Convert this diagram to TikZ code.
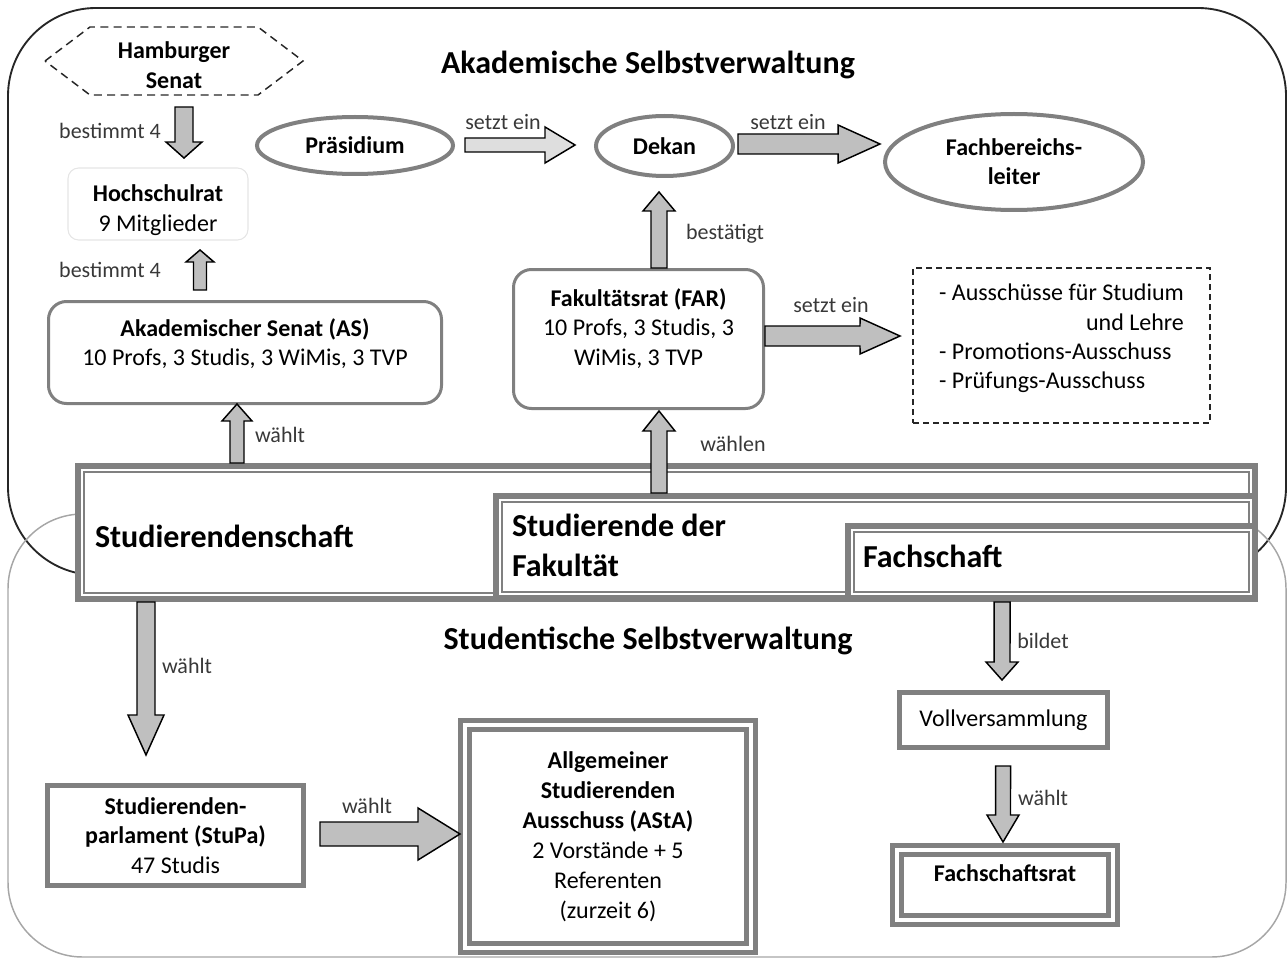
\documentclass[tikz,border=0pt]{standalone}
\usepackage{fontspec}
\setmainfont{Carlito}
\usetikzlibrary{calc,shapes.geometric}

\newcommand{\pu}{0.75pt}
\definecolor{boxgray}{gray}{0.5}
\definecolor{fillgray}{gray}{0.75}
\definecolor{lightfill}{gray}{0.87}
\definecolor{lblgray}{gray}{0.22}

\tikzset{
  body/.style={font=\fontsize{18}{22}\selectfont},
  lbl/.style={font=\fontsize{16.5}{20}\selectfont, text=lblgray, inner sep=0pt},
  title/.style={font=\fontsize{24}{30}\selectfont\bfseries, inner sep=0pt},
  roundbox/.style={body, rectangle, rounded corners=13.5pt, draw=boxgray, line width=2.25pt, align=center},
  oval/.style={ellipse, draw=boxgray, line width=3pt, align=center, font=\fontsize{18}{22}\selectfont\bfseries},
  plainbox/.style={body, rectangle, draw=boxgray, line width=3.5pt, align=center},
  twobox/.style={body, rectangle, draw=boxgray, line width=3.75pt, double=white, double distance=3pt, align=center},
  studbox/.style={rectangle, draw=boxgray, line width=4.5pt, fill=white},
  studtext/.style={title, anchor=west, align=left},
  fat/.style n args={3}{draw=black, line width=1.1pt, fill=fillgray, line join=miter,
    to path={
      ($(\tikztostart)!#1*\pu!90:(\tikztotarget)$)
      -- ($(\tikztotarget)!{veclen(#3,#1)*\pu}!{-atan(#1/#3)}:(\tikztostart)$)
      -- ($(\tikztotarget)!{veclen(#3,#2)*\pu}!{-atan(#2/#3)}:(\tikztostart)$)
      -- (\tikztotarget)
      -- ($(\tikztotarget)!{veclen(#3,#2)*\pu}!{atan(#2/#3)}:(\tikztostart)$)
      -- ($(\tikztotarget)!{veclen(#3,#1)*\pu}!{atan(#1/#3)}:(\tikztostart)$)
      -- ($(\tikztostart)!#1*\pu!-90:(\tikztotarget)$)
      -- cycle}},
}

\begin{document}
\begin{tikzpicture}[x=0.75pt, y=-0.75pt, every node/.append style={outer sep=0pt}]
  \useasboundingbox (0,0) rectangle (1287,959);

  % the two areas
  \draw[black!85, line width=1.4pt, rounded corners=66pt] (8,8) rectangle (1286,575);
  \draw[gray!70, line width=1.1pt, rounded corners=56pt] (8,514) rectangle (1286,957);

  \node[title] (akad) at (648,65) {Akademische Selbstverwaltung};
  \node[title] (stud) at (648,641) {Studentische Selbstverwaltung};

  % upper part
  \node[body, align=center, minimum width=258*\pu, minimum height=68*\pu, inner sep=1pt] (hs) at (174,61) {\mbox{}\\[-3pt]\textbf{Hamburger}\\\textbf{Senat}};
  \draw[black!85, line width=1.1pt, dash pattern=on 6pt off 4pt] (hs.west) -- ([xshift=45*\pu]hs.north west) -- ([xshift=-45*\pu]hs.north east) -- (hs.east) -- ([xshift=-45*\pu]hs.south east) -- ([xshift=45*\pu]hs.south west) -- cycle;

  \node[body, rectangle, rounded corners=8pt, draw=gray!20, line width=0.8pt, align=center, inner sep=1pt, minimum width=180*\pu, minimum height=72*\pu] (hr) at (158,204) {\mbox{}\\[0pt]\textbf{Hochschulrat}\\9 Mitglieder};
  \node[roundbox, minimum width=393*\pu, minimum height=102*\pu] (as) at (245,352.5) {\textbf{Akademischer Senat (AS)}\\10 Profs, 3 Studis, 3 WiMis, 3 TVP\\[-6pt]\mbox{}};

  \node[oval, minimum width=196*\pu, minimum height=57*\pu] (praes) at (355,145.5) {Präsidium};
  \node[oval, minimum width=137*\pu, minimum height=60*\pu] (dekan) at (664.5,146) {Dekan};
  \node[oval, minimum width=258*\pu, minimum height=96*\pu] (fbl) at (1014,162) {Fachbereichs-\\leiter};

  \node[roundbox, minimum width=250*\pu, minimum height=139*\pu] (far) at (638.5,339) {\textbf{Fakultätsrat (FAR)}\\10 Profs, 3 Studis, 3\\WiMis, 3 TVP\\[-4pt]\mbox{}};
  \node[body, rectangle, draw=black!85, line width=1.1pt, dash pattern=on 4.5pt off 3pt, minimum width=297*\pu, minimum height=155*\pu] (aus) at (1061.5,345.5)
    {\raisebox{5pt}[\height][\depth]{\begin{tabular}{@{}l@{}}- Ausschüsse für Studium\\ \hfill und Lehre\\- Promotions-Ausschuss\\- Prüfungs-Ausschuss\end{tabular}}};

  % Studierendenschaft
  \node[studbox, minimum width=1177*\pu, minimum height=133*\pu] (stsch) at (666.5,532.5) {};
  \draw[boxgray, line width=0.9pt] ([shift={(6,6)}]stsch.north west) rectangle ([shift={(-6,-6)}]stsch.south east);
  \node[studbox, minimum width=759*\pu, minimum height=102*\pu] (sdf) at (875.5,547) {};
  \draw[boxgray, line width=0.9pt] ([shift={(6,6)}]sdf.north west) rectangle ([shift={(-6,-6)}]sdf.south east);
  \node[studbox, minimum width=407*\pu, minimum height=72*\pu] (fsch) at (1051.5,562) {};
  \draw[boxgray, line width=0.9pt] ([shift={(6,6)}]fsch.north west) rectangle ([shift={(-6,-6)}]fsch.south east);

  \node[studtext] (stschtxt) at (95,536) {Studierendenschaft};
  \node[studtext] (sdftxt) at (512,545) {Studierende der\\Fakultät};
  \node[studtext] (fschtxt) at (863,556) {Fachschaft};

  % lower part
  \node[plainbox, minimum width=256*\pu, minimum height=100*\pu] (stupa) at (175.5,835.5) {\textbf{Studierenden-}\\\textbf{parlament (StuPa)}\\47 Studis};
  \node[twobox, font=\fontsize{18}{22.5}\selectfont, minimum width=286*\pu, minimum height=223*\pu] (asta) at (608,836.5)
    {\textbf{Allgemeiner}\\\textbf{Studierenden}\\\textbf{Ausschuss (AStA)}\\2 Vorstände + 5\\Referenten\\(zurzeit 6)};
  \node[plainbox, minimum width=208*\pu, minimum height=55*\pu] (vv) at (1003.5,720) {Vollversammlung};
  \node[twobox, minimum width=216*\pu, minimum height=70*\pu] (fsr) at (1005,885) {\textbf{Fachschaftsrat}\\[-4pt]};

  % arrows
  \draw[fat={9}{18}{16}] ([shift={(10,12)}]hs.south) to ([shift={(26,-10)}]hr.north);
  \draw[fat={6.5}{14}{12}] ([shift={(-45,-11.5)}]as.north) to ([shift={(42,10)}]hr.south);
  \draw[fat={7}{15}{17}] ([shift={(159,-3)}]stsch.north west) to ([shift={(-8,0.5)}]as.south);
  \draw[fat={7}{18}{30}, fill=lightfill] ([shift={(12,-0.5)}]praes.east) to ([shift={(-21,-1)}]dekan.west);
  \draw[fat={10}{19}{42}] ([shift={(5,-2)}]dekan.east) to ([shift={(-5,-18)}]fbl.west);
  \draw[fat={8}{16}{19}] ([shift={(20.5,-1.5)}]far.north) to ([shift={(-5.5,16)}]dekan.south);
  \draw[fat={10}{18}{40}] ([shift={(1.5,-3)}]far.east) to ([shift={(-13,-9.5)}]aus.west);
  \draw[fat={8}{16}{20}] ([shift={(163,-3)}]sdf.north west) to ([shift={(20.5,2.5)}]far.south);
  \draw[fat={9}{18}{40}] ([shift={(68,3)}]stsch.south west) to ([shift={(-29.5,-30.5)}]stupa.north);
  \draw[fat={12}{26}{42}] ([shift={(16.5,-1.5)}]stupa.east) to ([shift={(-5,-2.5)}]asta.west);
  \draw[fat={8}{16}{18}] ([shift={(-49.5,4)}]fsch.south) to ([shift={(-1.5,-12.5)}]vv.north);
  \draw[fat={7.5}{16}{27}] ([shift={(-0.5,18.5)}]vv.south) to ([shift={(-2,-8)}]fsr.north);

  % arrow labels
  \node[lbl] (l1) at (110,131) {bestimmt 4};
  \node[lbl] (l2) at (110,270) {bestimmt 4};
  \node[lbl] (l3) at (280,435) {wählt};
  \node[lbl] (l4) at (503,122) {setzt ein};
  \node[lbl] (l5) at (788,122) {setzt ein};
  \node[lbl] (l6) at (725,234) {bestätigt};
  \node[lbl] (l7) at (831,305) {setzt ein};
  \node[lbl] (l8) at (733,444) {wählen};
  \node[lbl] (l9) at (187,666) {wählt};
  \node[lbl] (l10) at (367,806) {wählt};
  \node[lbl] (l11) at (1043,641) {bildet};
  \node[lbl] (l12) at (1043,798) {wählt};
\end{tikzpicture}
\end{document}
